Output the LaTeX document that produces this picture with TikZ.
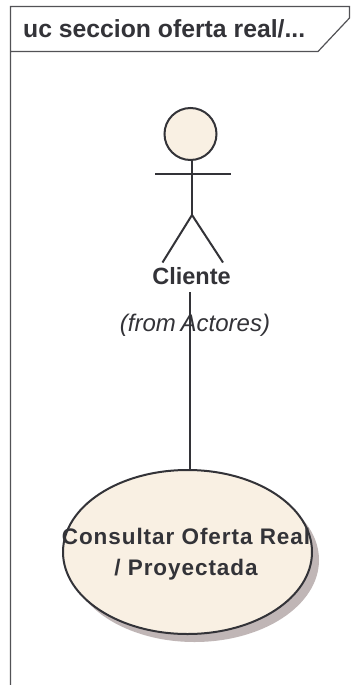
\documentclass[tikz,border=0pt]{standalone}
\usepackage{fontspec}
\setmainfont{Liberation Sans}
\usetikzlibrary{shapes.geometric}
\definecolor{ink}{HTML}{333338}
\definecolor{fillc}{HTML}{F9F0E3}
\definecolor{shadowc}{HTML}{C0B6B6}
\tikzset{
  ln/.style={draw=ink,line width=2pt},
  framel/.style={draw=ink!85!white,line width=1.2pt},
  lab/.style={text=ink,inner sep=0pt,font=\fontsize{23.5}{28}\selectfont\bfseries},
  ucase/.style={ellipse,ln,fill=fillc,minimum width=249pt,minimum height=164pt,inner sep=0pt},
  uctext/.style={text=ink,inner sep=0pt,align=center,font=\fontsize{22.5}{31}\selectfont\bfseries\addfontfeatures{LetterSpace=4.2}},
}
\begin{document}
\begin{tikzpicture}[x=1pt,y=-1pt]
\useasboundingbox (0,0) rectangle (358,685);
\fill[white] (0,0) rectangle (358,685);
% frame
\draw[framel] (10.5,685) -- (10.5,6.5) -- (349.5,6.5) -- (349.5,18) -- (318,51.5) -- (10.5,51.5);
\node[lab,anchor=west,font=\fontsize{24.75}{28}\selectfont\bfseries] (title) at (23,28.5) {uc seccion oferta real/...};
% actor
\node[circle,ln,fill=fillc,minimum size=52pt,inner sep=0pt] (head) at (190.5,134) {};
\coordinate (neck) at (192,160);
\coordinate (hip) at (192,215);
\coordinate (armL) at (155,173.5);
\coordinate (armR) at (231,173.5);
\coordinate (legL) at (162.5,262.5);
\coordinate (legR) at (223,262.5);
\draw[ln] (neck) -- (hip);
\draw[ln] (armL) -- (armR);
\draw[ln] (legL) -- (hip) -- (legR);
\node[lab] (cliente) at (191.5,276) {Cliente};
\node[text=ink,inner sep=0pt,font=\fontsize{24}{28}\selectfont\itshape] (from) at (195,325.5) {(from\hspace{-2pt} Actores)};
% use case
\fill[shadowc] (194.5,560) ellipse [x radius=124.5, y radius=82];
\node[ucase] (uc) at (187.5,552) {};
\node[uctext] (uct) at (186,554) {Consultar Oferta Real\\/ Proyectada};
% connector
\coordinate (c0) at (189.5,292);
\draw[ln] (c0) -- (c0 |- uc.north);
\end{tikzpicture}
\end{document}
